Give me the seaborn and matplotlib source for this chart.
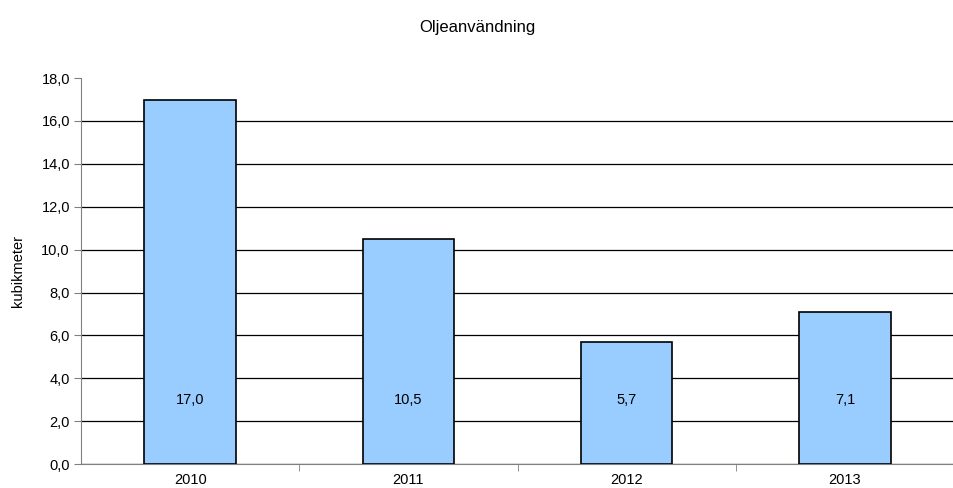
import matplotlib
matplotlib.use('Agg')
import matplotlib.pyplot as plt
import seaborn as sns
import pandas as pd

# data
years = ['2010', '2011', '2012', '2013']
volumes = [17.0, 10.5, 5.7, 7.1]

df = pd.DataFrame({'ar': years, 'kubikmeter': volumes})

sns.set_style('white')
plt.rcParams['font.family'] = ['Liberation Sans', 'DejaVu Sans']
plt.rcParams['text.color'] = 'black'
plt.rcParams['axes.labelcolor'] = 'black'
plt.rcParams['xtick.color'] = 'black'
plt.rcParams['ytick.color'] = 'black'

fig = plt.figure(figsize=(9.54, 4.88), dpi=100)
ax = fig.add_axes([0.085, 0.049, 0.915, 0.791])

sns.barplot(data=df, x='ar', y='kubikmeter', color='#99CCFF', width=0.42,
            edgecolor='black', linewidth=1.2, saturation=1, ax=ax, zorder=3)

# etiketter inne i staplarna, på fast höjd
for i, v in enumerate(volumes):
    ax.text(i, 3.0, f'{v:.1f}'.replace('.', ','), ha='center', va='center',
            fontsize=10.5, zorder=4)

ax.set_ylim(0, 18)
ax.set_xlim(-0.5, 3.5)
ax.set_yticks(range(0, 19, 2))
ax.set_yticklabels([f'{t:.1f}'.replace('.', ',') for t in range(0, 19, 2)], fontsize=10.5)
ax.tick_params(axis='y', left=True, length=5, color='#808080', pad=3)
ax.tick_params(axis='x', which='major', bottom=False, labelsize=10.5, pad=3)
ax.set_xticks([0.5, 1.5, 2.5], minor=True)
ax.tick_params(axis='x', which='minor', bottom=True, length=5, color='#808080')

ax.grid(axis='y', color='black', linewidth=0.9, zorder=0)
ax.yaxis.get_gridlines()[-1].set_visible(False)
ax.set_axisbelow(True)
for s in ['top', 'right']:
    ax.spines[s].set_visible(False)
ax.spines['left'].set_color('#808080')
ax.spines['bottom'].set_color('#808080')

ax.set_xlabel('')
ax.set_ylabel('kubikmeter', fontsize=10.5, labelpad=12)
fig.suptitle('Oljeanvändning', fontsize=12, y=0.96)

fig.savefig('out.png', dpi=100)
